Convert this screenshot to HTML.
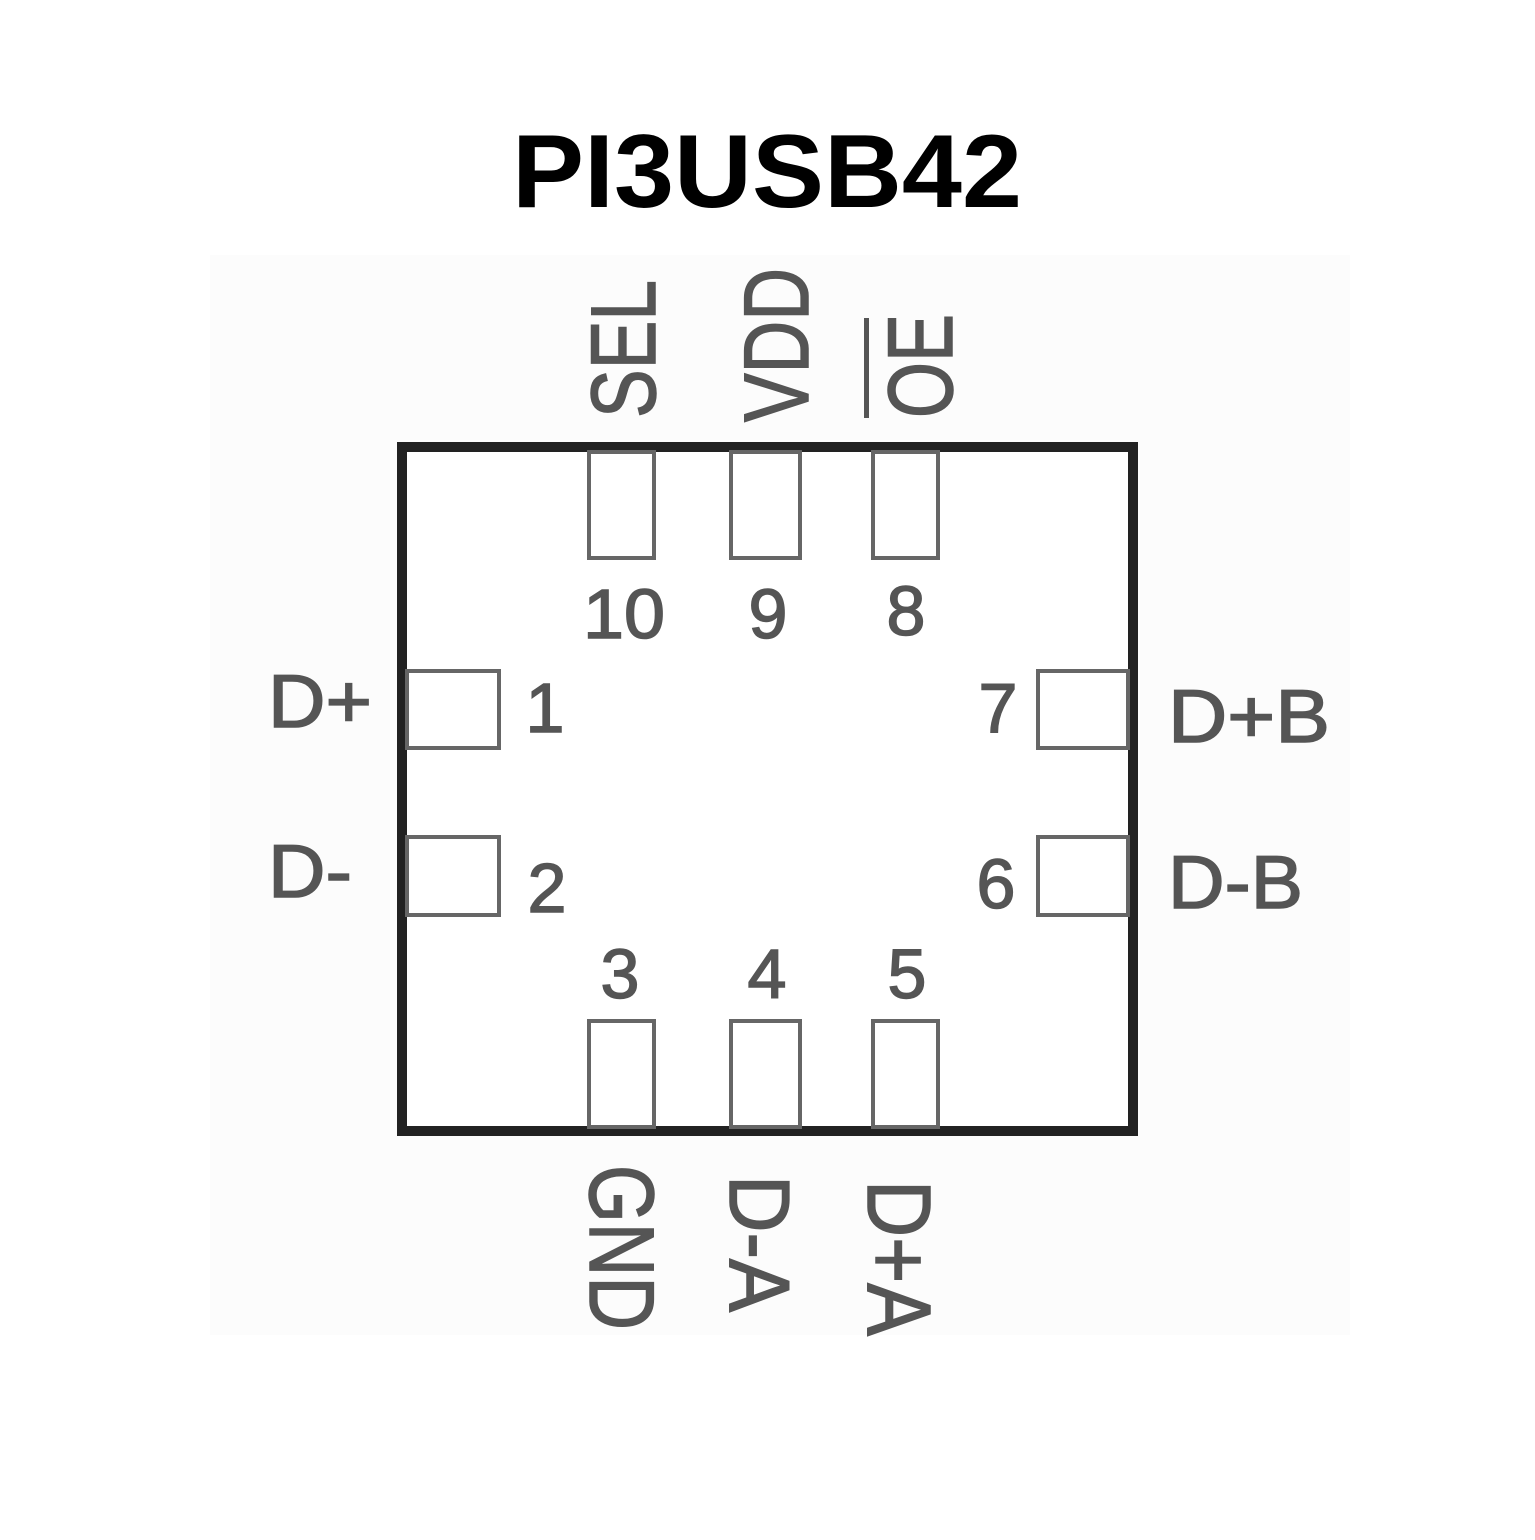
<!DOCTYPE html>
<html><head><meta charset="utf-8"><style>html,body{margin:0;padding:0;background:#fff}</style></head>
<body>
<svg width="1535" height="1535" viewBox="0 0 1535 1535" xmlns="http://www.w3.org/2000/svg">
<rect width="1535" height="1535" fill="#fff"/>
<rect x="210" y="255" width="1140" height="1080" fill="#fcfcfc"/>
<text x="767" y="207" text-anchor="middle" font-family="Liberation Sans, sans-serif" font-weight="bold" font-size="104" textLength="510" lengthAdjust="spacingAndGlyphs" fill="#000">PI3USB42</text>
<rect x="402" y="447" width="731" height="684" fill="#fff" stroke="#222" stroke-width="10"/>
<g fill="none" stroke="#666" stroke-width="4">
<rect x="589" y="452" width="65" height="106"/>
<rect x="731" y="452" width="69" height="106"/>
<rect x="873" y="452" width="65" height="106"/>
<rect x="589" y="1021" width="65" height="106"/>
<rect x="731" y="1021" width="69" height="106"/>
<rect x="873" y="1021" width="65" height="106"/>
<rect x="407" y="671" width="92" height="77"/>
<rect x="407" y="837" width="92" height="78"/>
<rect x="1038" y="671" width="90" height="77"/>
<rect x="1038" y="837" width="90" height="78"/>
</g>
<g font-family="Liberation Sans, sans-serif" fill="#555" stroke="#555" stroke-width="1.5">
<text transform="translate(655,418) rotate(-90)" font-size="92" textLength="138" lengthAdjust="spacingAndGlyphs">SEL</text>
<text transform="translate(808,422) rotate(-90)" font-size="92" textLength="154" lengthAdjust="spacingAndGlyphs">VDD</text>
<text transform="translate(952,418) rotate(-90)" font-size="92" textLength="104" lengthAdjust="spacingAndGlyphs">OE</text>
<rect x="864" y="318" width="5" height="100" stroke="none"/>
<text transform="translate(590,1165) rotate(90)" font-size="92" textLength="165" lengthAdjust="spacingAndGlyphs">GND</text>
<text transform="translate(730,1175) rotate(90)" font-size="85" textLength="137" lengthAdjust="spacingAndGlyphs">D-A</text>
<text transform="translate(868,1180) rotate(90)" font-size="90" textLength="156" lengthAdjust="spacingAndGlyphs">D+A</text>
<g font-size="70">
<text x="583" y="638" textLength="82" lengthAdjust="spacingAndGlyphs">10</text>
<text x="768" y="638" text-anchor="middle">9</text>
<text x="906" y="635" text-anchor="middle">8</text>
<text x="620" y="998" text-anchor="middle">3</text>
<text x="767" y="998" text-anchor="middle">4</text>
<text x="907" y="998" text-anchor="middle">5</text>
<text x="545" y="732" text-anchor="middle">1</text>
<text x="547" y="912" text-anchor="middle">2</text>
<text x="998" y="732" text-anchor="middle">7</text>
<text x="996" y="908" text-anchor="middle">6</text>
</g>
<g font-size="75">
<text x="268" y="727" textLength="104" lengthAdjust="spacingAndGlyphs">D+</text>
<text x="268" y="897" textLength="84" lengthAdjust="spacingAndGlyphs">D-</text>
<text x="1168" y="742" textLength="162" lengthAdjust="spacingAndGlyphs">D+B</text>
<text x="1168" y="908" textLength="135" lengthAdjust="spacingAndGlyphs">D-B</text>
</g>
</g>
</svg>
</body></html>
